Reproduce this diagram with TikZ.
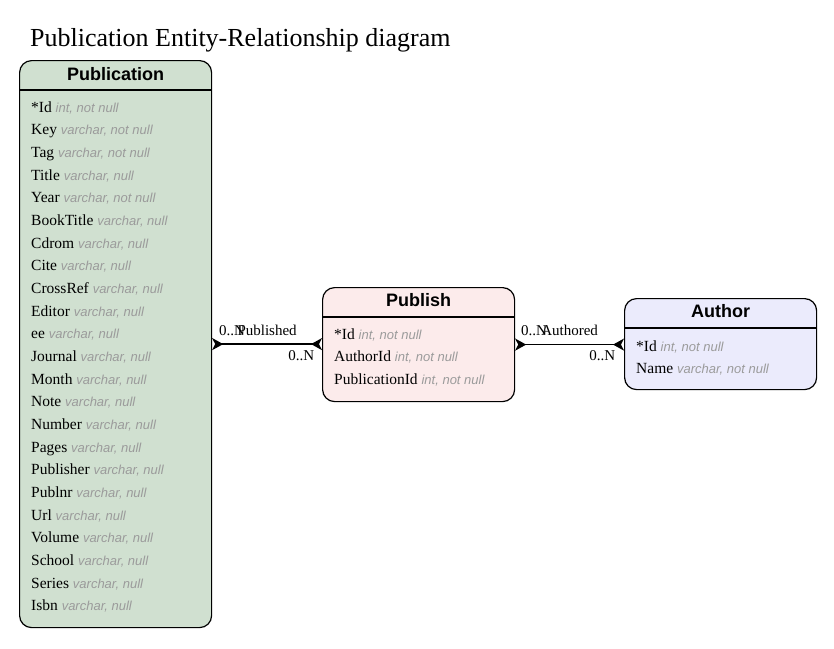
\documentclass[tikz,border=0pt]{standalone}
\usepackage{fontspec}
\setmainfont{Liberation Serif}
\setsansfont{Liberation Sans}
\usetikzlibrary{arrows.meta,positioning,calc}
\definecolor{pubgreen}{RGB}{208,224,208}
\definecolor{publishpink}{RGB}{252,235,235}
\definecolor{authorblue}{RGB}{235,235,252}
\definecolor{typegray}{RGB}{155,155,155}
\newcommand{\coltype}[1]{{\fontsize{13}{15}\sffamily\itshape\color{typegray}#1}}

\begin{document}
\begin{tikzpicture}[x=1pt, y=-1pt,
    entity/.style={draw=black, line width=1.2pt, rounded corners=12pt,
                   minimum width=192pt, anchor=north west, inner sep=0pt},
    head/.style={font=\fontsize{18}{20}\sffamily\bfseries, inner sep=0pt},
    row/.style={anchor=base west, font=\fontsize{15.5}{17}\selectfont, inner sep=0pt},
    sep/.style={line width=1.2pt},
    rel/.style={line width=1.6pt,
                {Stealth[reversed,length=11pt,width=12pt,inset=3pt]}-{Stealth[reversed,length=11pt,width=12pt,inset=3pt]}},
    card/.style={font=\fontsize{15}{17}\selectfont, inner sep=0pt}
  ]
  \useasboundingbox (0,0) rectangle (834,648);

  \node[anchor=base west, font=\fontsize{26}{30}\selectfont, inner sep=0pt] (title) at (30,46)
    {Publication Entity-Relationship diagram};

  % Publication table
  \node[entity, fill=pubgreen, minimum height=567pt] (pub) at (19,60) {};
  \node[head] (pubhead) at ([yshift=-14pt]pub.north) {Publication};
  \draw[sep] ([yshift=-30pt]pub.north west) -- ([yshift=-30pt]pub.north east);
  \foreach \n/\t [count=\i] in {*Id/{int, not null}, Key/{varchar, not null},
      Tag/{varchar, not null}, Title/{varchar, null}, Year/{varchar, not null},
      BookTitle/{varchar, null}, Cdrom/{varchar, null}, Cite/{varchar, null},
      CrossRef/{varchar, null}, Editor/{varchar, null}, ee/{varchar, null},
      Journal/{varchar, null}, Month/{varchar, null}, Note/{varchar, null},
      Number/{varchar, null}, Pages/{varchar, null}, Publisher/{varchar, null},
      Publnr/{varchar, null}, Url/{varchar, null}, Volume/{varchar, null},
      School/{varchar, null}, Series/{varchar, null}, Isbn/{varchar, null}}
    \node[row] (pubrow\i) at ([xshift=12pt, yshift={-52pt-22.68pt*(\i-1)}]pub.north west)
      {\n\ \coltype{\t}};

  % Publish table
  \node[entity, fill=publishpink, minimum height=114pt] (publish) at (322,287) {};
  \node[head] (publishhead) at ([yshift=-13pt]publish.north) {Publish};
  \draw[sep] ([yshift=-30pt]publish.north west) -- ([yshift=-30pt]publish.north east);
  \foreach \n/\t [count=\i] in {*Id/{int, not null}, AuthorId/{int, not null},
      PublicationId/{int, not null}}
    \node[row] (publishrow\i) at ([xshift=12pt, yshift={-52pt-22.68pt*(\i-1)}]publish.north west)
      {\n\ \coltype{\t}};

  % Author table
  \node[entity, fill=authorblue, minimum height=91pt] (author) at (624,298) {};
  \node[head] (authorhead) at ([yshift=-13.5pt]author.north) {Author};
  \draw[sep] ([yshift=-30pt]author.north west) -- ([yshift=-30pt]author.north east);
  \foreach \n/\t [count=\i] in {*Id/{int, not null}, Name/{varchar, not null}}
    \node[row] (authorrow\i) at ([xshift=12pt, yshift={-53pt-22.68pt*(\i-1)}]author.north west)
      {\n\ \coltype{\t}};

  % relationships
  \draw[rel] (pub.east) -- (pub.east -| publish.west)
    node[card, at start, anchor=base west, xshift=6pt, yshift=9pt] {0..N}
    node[card, midway, anchor=base, yshift=9pt] {Published}
    node[card, at end, anchor=base east, xshift=-7pt, yshift=-16pt] {0..N};
  \draw[rel] (publish.east) -- (publish.east -| author.west)
    node[card, at start, anchor=base west, xshift=5pt, yshift=9pt] {0..N}
    node[card, midway, anchor=base, yshift=9pt] {Authored}
    node[card, at end, anchor=base east, xshift=-8pt, yshift=-16pt] {0..N};
\end{tikzpicture}
\end{document}
